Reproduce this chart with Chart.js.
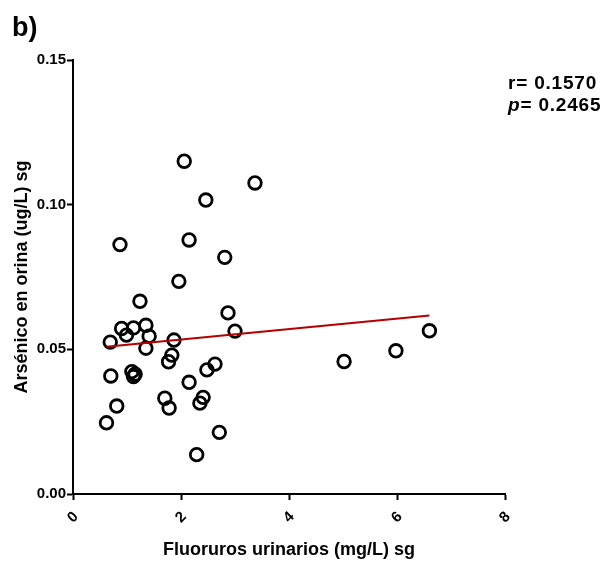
<!DOCTYPE html>
<html>
<head>
<meta charset="utf-8">
<script src="https://cdn.jsdelivr.net/npm/chart.js@4/dist/chart.umd.min.js"></script>
<style>
  html, body { margin: 0; padding: 0; background: #fff; }
  #wrap { width: 610px; height: 565px; }
</style>
</head>
<body>
<div id="wrap"><canvas id="chart" width="610" height="565"></canvas></div>
<script>
// Fluoride (mg/L) against arsenic (ug/L) in urine, one entry per subject
const fluoride = [
  2.06, 3.37, 2.46, 0.87, 2.15, 2.81, 1.96, 1.24, 2.87, 0.90,
  1.12, 1.35, 0.99, 1.41, 0.69, 1.35, 1.87, 3.00, 1.83, 1.77,
  0.70, 1.09, 1.15, 1.12, 2.63, 2.48, 2.15, 1.70, 2.41, 2.35,
  1.78, 0.81, 0.62, 2.71, 2.29, 5.02, 5.98, 6.60
];
const arsenic = [
  0.1150, 0.1075, 0.1016, 0.0862, 0.0878, 0.0818, 0.0735, 0.0666, 0.0626, 0.0572,
  0.0574, 0.0583, 0.0549, 0.0545, 0.0525, 0.0504, 0.0532, 0.0563, 0.0480, 0.0457,
  0.0408, 0.0423, 0.0414, 0.0406, 0.0449, 0.0429, 0.0386, 0.0331, 0.0334, 0.0314,
  0.0297, 0.0304, 0.0246, 0.0213, 0.0136, 0.0458, 0.0495, 0.0564
];

// linear fit
const fitIntercept = 0.0498;
const fitSlope = 0.0018;

const xTicks = [0, 2, 4, 6, 8];
const yTicks = [0, 0.05, 0.10, 0.15];

const panelLabel = 'b)';
const xTitle = 'Fluoruros urinarios (mg/L) sg';
const yTitle = 'Arsénico en orina (ug/L) sg';
const statR = '0.1570';
const statP = '0.2465';

const points = fluoride.map((x, i) => ({ x: x, y: arsenic[i] }));
const xMin = Math.min(...fluoride);
const xMax = Math.max(...fluoride);
const fitLine = [xMin, xMax].map(x => ({ x: x, y: fitIntercept + fitSlope * x }));

const FONT = '"Liberation Sans", Arial, sans-serif';

// panel letter and r / p annotation
const annotations = {
  id: 'annotations',
  afterDraw(chart) {
    const ctx = chart.ctx;
    ctx.save();
    ctx.fillStyle = '#000';
    ctx.textBaseline = 'alphabetic';
    ctx.textAlign = 'left';

    ctx.font = 'bold 27px ' + FONT;
    ctx.fillText(panelLabel, 12, 36);

    ctx.letterSpacing = '0.8px';
    ctx.font = 'bold 19px ' + FONT;
    ctx.fillText('r= ' + statR, 508, 89);

    ctx.font = 'italic bold 19px ' + FONT;
    ctx.fillText('p', 508, 111);
    const pw = ctx.measureText('p').width;
    ctx.font = 'bold 19px ' + FONT;
    ctx.fillText('= ' + statP, 508 + pw, 111);
    ctx.restore();
  }
};

new Chart(document.getElementById('chart'), {
  type: 'scatter',
  data: {
    datasets: [
      {
        type: 'line',
        data: fitLine,
        borderColor: '#b40000',
        borderWidth: 2,
        pointRadius: 0,
        fill: false,
        order: 0
      },
      {
        data: points,
        pointStyle: 'circle',
        pointRadius: 6.3,
        pointBorderWidth: 2.8,
        pointBorderColor: '#000',
        pointBackgroundColor: 'rgba(0,0,0,0)',
        order: 1
      }
    ]
  },
  options: {
    responsive: false,
    animation: false,
    layout: { padding: { left: 0, top: 60, right: 105, bottom: 0 } },
    plugins: {
      legend: { display: false },
      tooltip: { enabled: false }
    },
    scales: {
      x: {
        type: 'linear',
        min: 0,
        max: 8,
        afterFit: scale => { scale.height = 71; },
        afterBuildTicks: scale => { scale.ticks = xTicks.map(v => ({ value: v })); },
        border: { display: true, color: '#000', width: 2 },
        grid: { drawOnChartArea: false, drawTicks: true, tickLength: 6, tickWidth: 2, tickColor: '#000' },
        ticks: {
          minRotation: 45,
          maxRotation: 45,
          padding: 8,
          labelOffset: 3,
          color: '#000',
          font: { family: FONT, size: 15, weight: 'bold' }
        },
        title: {
          display: true,
          text: xTitle,
          color: '#000',
          font: { family: FONT, size: 18, weight: 'bold' },
          padding: { top: 0, bottom: 4 }
        }
      },
      y: {
        type: 'linear',
        min: 0,
        max: 0.15,
        afterFit: scale => { scale.width = 73; },
        afterBuildTicks: scale => { scale.ticks = yTicks.map(v => ({ value: v })); },
        border: { display: true, color: '#000', width: 2 },
        grid: { drawOnChartArea: false, drawTicks: true, tickLength: 6, tickWidth: 2, tickColor: '#000' },
        ticks: {
          padding: 1,
          color: '#000',
          font: { family: FONT, size: 15, weight: 'bold' },
          callback: v => v.toFixed(2)
        },
        title: {
          display: true,
          text: yTitle,
          color: '#000',
          font: { family: FONT, size: 18, weight: 'bold' },
          padding: { top: 11, bottom: 0 }
        }
      }
    }
  },
  plugins: [annotations]
});
</script>
</body>
</html>
